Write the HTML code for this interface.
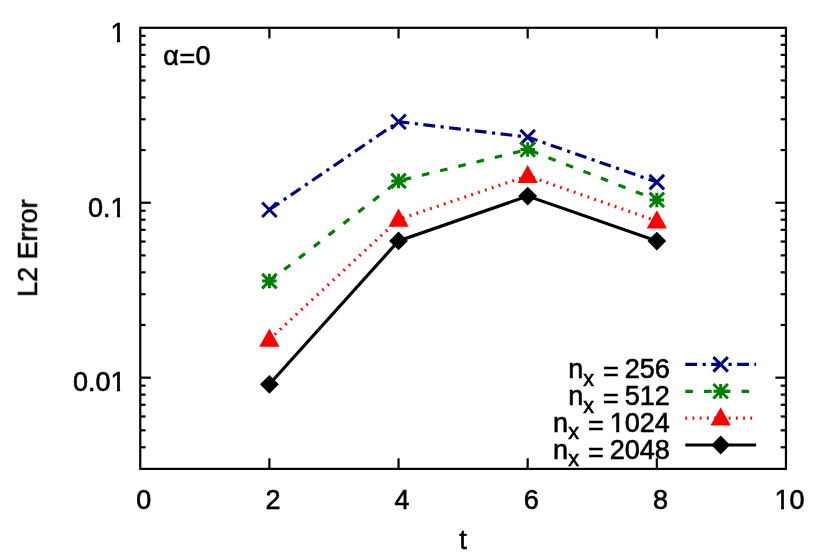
<!DOCTYPE html>
<html lang="en"><head><meta charset="utf-8"><title>chart</title>
<style>html,body{margin:0;padding:0;background:#fff;}svg{display:block;}</style>
</head><body>
<svg width="830" height="554" viewBox="0 0 830 554">
<rect x="0" y="0" width="830" height="554" fill="#fff"/>
<g stroke="#000" stroke-width="2.2" fill="none" stroke-linecap="butt">
<path d="M269.39 468.9 V458.30"/>
<path d="M269.39 27.8 V38.40"/>
<path d="M398.54 468.9 V458.30"/>
<path d="M398.54 27.8 V38.40"/>
<path d="M527.68 468.9 V458.30"/>
<path d="M527.68 27.8 V38.40"/>
<path d="M656.83 468.9 V458.30"/>
<path d="M656.83 27.8 V38.40"/>
<path d="M140.25 202.73 H150.85"/>
<path d="M785.97 202.73 H775.37"/>
<path d="M140.25 150.07 H145.55"/>
<path d="M785.97 150.07 H780.67"/>
<path d="M140.25 119.27 H145.55"/>
<path d="M785.97 119.27 H780.67"/>
<path d="M140.25 97.41 H145.55"/>
<path d="M785.97 97.41 H780.67"/>
<path d="M140.25 80.46 H145.55"/>
<path d="M785.97 80.46 H780.67"/>
<path d="M140.25 66.61 H145.55"/>
<path d="M785.97 66.61 H780.67"/>
<path d="M140.25 54.90 H145.55"/>
<path d="M785.97 54.90 H780.67"/>
<path d="M140.25 44.75 H145.55"/>
<path d="M785.97 44.75 H780.67"/>
<path d="M140.25 35.80 H145.55"/>
<path d="M785.97 35.80 H780.67"/>
<path d="M140.25 377.66 H150.85"/>
<path d="M785.97 377.66 H775.37"/>
<path d="M140.25 325.00 H145.55"/>
<path d="M785.97 325.00 H780.67"/>
<path d="M140.25 294.20 H145.55"/>
<path d="M785.97 294.20 H780.67"/>
<path d="M140.25 272.34 H145.55"/>
<path d="M785.97 272.34 H780.67"/>
<path d="M140.25 255.39 H145.55"/>
<path d="M785.97 255.39 H780.67"/>
<path d="M140.25 241.54 H145.55"/>
<path d="M785.97 241.54 H780.67"/>
<path d="M140.25 229.83 H145.55"/>
<path d="M785.97 229.83 H780.67"/>
<path d="M140.25 219.68 H145.55"/>
<path d="M785.97 219.68 H780.67"/>
<path d="M140.25 210.73 H145.55"/>
<path d="M785.97 210.73 H780.67"/>
<path d="M140.25 447.27 H145.55"/>
<path d="M785.97 447.27 H780.67"/>
<path d="M140.25 430.32 H145.55"/>
<path d="M785.97 430.32 H780.67"/>
<path d="M140.25 416.47 H145.55"/>
<path d="M785.97 416.47 H780.67"/>
<path d="M140.25 404.76 H145.55"/>
<path d="M785.97 404.76 H780.67"/>
<path d="M140.25 394.61 H145.55"/>
<path d="M785.97 394.61 H780.67"/>
<path d="M140.25 385.66 H145.55"/>
<path d="M785.97 385.66 H780.67"/>
<rect x="140.25" y="27.8" width="645.72" height="441.10"/>
</g>
<path d="M685.3 364.4 H756.1" stroke="#000080" stroke-width="3.2" fill="none" stroke-dasharray="11.8 5.5 3.2 5.4"/>
<polyline points="269.39,209.70 398.54,121.70 527.68,137.10 656.83,182.10" stroke="#000080" stroke-width="3.2" fill="none" stroke-linejoin="miter" stroke-dasharray="11.8 5.5 3.2 5.4"/>
<path d="M262.14 202.45 L276.64 216.95 M262.14 216.95 L276.64 202.45" stroke="#000080" stroke-width="3.0" fill="none"/>
<path d="M391.29 114.45 L405.79 128.95 M391.29 128.95 L405.79 114.45" stroke="#000080" stroke-width="3.0" fill="none"/>
<path d="M520.43 129.85 L534.93 144.35 M520.43 144.35 L534.93 129.85" stroke="#000080" stroke-width="3.0" fill="none"/>
<path d="M649.58 174.85 L664.08 189.35 M649.58 189.35 L664.08 174.85" stroke="#000080" stroke-width="3.0" fill="none"/>
<path d="M713.40 357.15 L727.90 371.65 M713.40 371.65 L727.90 357.15" stroke="#000080" stroke-width="3.0" fill="none"/>
<path d="M685.3 391.3 H756.1" stroke="#008000" stroke-width="3.2" fill="none" stroke-dasharray="7.6 11.15"/>
<polyline points="269.39,281.10 398.54,180.90 527.68,149.50 656.83,199.90" stroke="#008000" stroke-width="3.2" fill="none" stroke-linejoin="miter" stroke-dasharray="7.6 11.15"/>
<path d="M262.14 273.85 L276.64 288.35 M262.14 288.35 L276.64 273.85 M262.14 281.10 H276.64 M269.39 273.85 V288.35" stroke="#008000" stroke-width="3.0" fill="none"/>
<path d="M391.29 173.65 L405.79 188.15 M391.29 188.15 L405.79 173.65 M391.29 180.90 H405.79 M398.54 173.65 V188.15" stroke="#008000" stroke-width="3.0" fill="none"/>
<path d="M520.43 142.25 L534.93 156.75 M520.43 156.75 L534.93 142.25 M520.43 149.50 H534.93 M527.68 142.25 V156.75" stroke="#008000" stroke-width="3.0" fill="none"/>
<path d="M649.58 192.65 L664.08 207.15 M649.58 207.15 L664.08 192.65 M649.58 199.90 H664.08 M656.83 192.65 V207.15" stroke="#008000" stroke-width="3.0" fill="none"/>
<path d="M713.40 384.05 L727.90 398.55 M713.40 398.55 L727.90 384.05 M713.40 391.30 H727.90 M720.65 384.05 V398.55" stroke="#008000" stroke-width="3.0" fill="none"/>
<path d="M685.3 418.2 H756.1" stroke="#ff0000" stroke-width="3.2" fill="none" stroke-dasharray="1.8 5.43"/>
<polyline points="269.39,339.50 398.54,219.50 527.68,175.80 656.83,221.10" stroke="#ff0000" stroke-width="3.2" fill="none" stroke-linejoin="miter" stroke-dasharray="1.8 5.43"/>
<path d="M269.39 328.60 L259.24 346.80 L279.54 346.80 Z" fill="#ff0000"/>
<path d="M398.54 208.60 L388.39 226.80 L408.69 226.80 Z" fill="#ff0000"/>
<path d="M527.68 164.90 L517.53 183.10 L537.83 183.10 Z" fill="#ff0000"/>
<path d="M656.83 210.20 L646.68 228.40 L666.98 228.40 Z" fill="#ff0000"/>
<path d="M720.65 407.30 L710.50 425.50 L730.80 425.50 Z" fill="#ff0000"/>
<path d="M685.3 445.0 H756.1" stroke="#000000" stroke-width="3.2" fill="none"/>
<polyline points="269.39,384.30 398.54,240.90 527.68,196.10 656.83,241.10" stroke="#000000" stroke-width="3.2" fill="none" stroke-linejoin="miter"/>
<path d="M269.39 374.90 L278.79 384.30 L269.39 393.70 L259.99 384.30 Z" fill="#000000"/>
<path d="M398.54 231.50 L407.94 240.90 L398.54 250.30 L389.14 240.90 Z" fill="#000000"/>
<path d="M527.68 186.70 L537.08 196.10 L527.68 205.50 L518.28 196.10 Z" fill="#000000"/>
<path d="M656.83 231.70 L666.23 241.10 L656.83 250.50 L647.43 241.10 Z" fill="#000000"/>
<path d="M720.65 435.60 L730.05 445.00 L720.65 454.40 L711.25 445.00 Z" fill="#000000"/>
<g font-family="'Liberation Sans', sans-serif" font-size="27px" fill="#000" stroke="#000" stroke-width="0.6" style="filter:grayscale(1)">
<text x="125.6" y="41.60" text-anchor="end">1</text>
<text x="125.6" y="216.53" text-anchor="end">0.1</text>
<text x="125.6" y="391.46" text-anchor="end">0.01</text>
<text x="143.85" y="509.1" text-anchor="middle">0</text>
<text x="272.99" y="509.1" text-anchor="middle">2</text>
<text x="402.14" y="509.1" text-anchor="middle">4</text>
<text x="531.28" y="509.1" text-anchor="middle">6</text>
<text x="660.43" y="509.1" text-anchor="middle">8</text>
<text x="789.57" y="509.1" text-anchor="middle">10</text>
<text x="463" y="549" text-anchor="middle">t</text>
<text transform="translate(37,248.2) rotate(-90)" text-anchor="middle">L2 Error</text>
<text x="163.3" y="65" letter-spacing="0.6">α<tspan dx="0.1" dy="2.7">=</tspan><tspan dx="-0.4" dy="-2.7">0</tspan></text>
<text x="669.8" y="378.10" text-anchor="end">n<tspan font-size="21.6px" dy="7.5">x</tspan><tspan dy="-4.5" dx="1.6"> =</tspan><tspan dy="-3" dx="-1.6"> 256</tspan></text>
<text x="669.8" y="405.00" text-anchor="end">n<tspan font-size="21.6px" dy="7.5">x</tspan><tspan dy="-4.5" dx="1.6"> =</tspan><tspan dy="-3" dx="-1.6"> 512</tspan></text>
<text x="669.8" y="431.90" text-anchor="end">n<tspan font-size="21.6px" dy="7.5">x</tspan><tspan dy="-4.5" dx="1.6"> =</tspan><tspan dy="-3" dx="-1.6"> 1024</tspan></text>
<text x="669.8" y="458.70" text-anchor="end">n<tspan font-size="21.6px" dy="7.5">x</tspan><tspan dy="-4.5" dx="1.6"> =</tspan><tspan dy="-3" dx="-1.6"> 2048</tspan></text>
</g>
<g fill="#fff">
<rect x="111.78" y="38.20" width="5.27" height="4.6"/>
<rect x="120.08" y="38.20" width="5.0" height="4.6"/>
<rect x="111.78" y="213.13" width="5.27" height="4.6"/>
<rect x="120.08" y="213.13" width="5.0" height="4.6"/>
<rect x="111.78" y="388.06" width="5.27" height="4.6"/>
<rect x="120.08" y="388.06" width="5.0" height="4.6"/>
<rect x="775.75" y="505.70" width="5.27" height="4.6"/>
<rect x="784.05" y="505.70" width="5.0" height="4.6"/>
<rect x="610.94" y="428.50" width="5.27" height="4.6"/>
<rect x="619.24" y="428.50" width="5.0" height="4.6"/>
</g>
</svg>
</body></html>
